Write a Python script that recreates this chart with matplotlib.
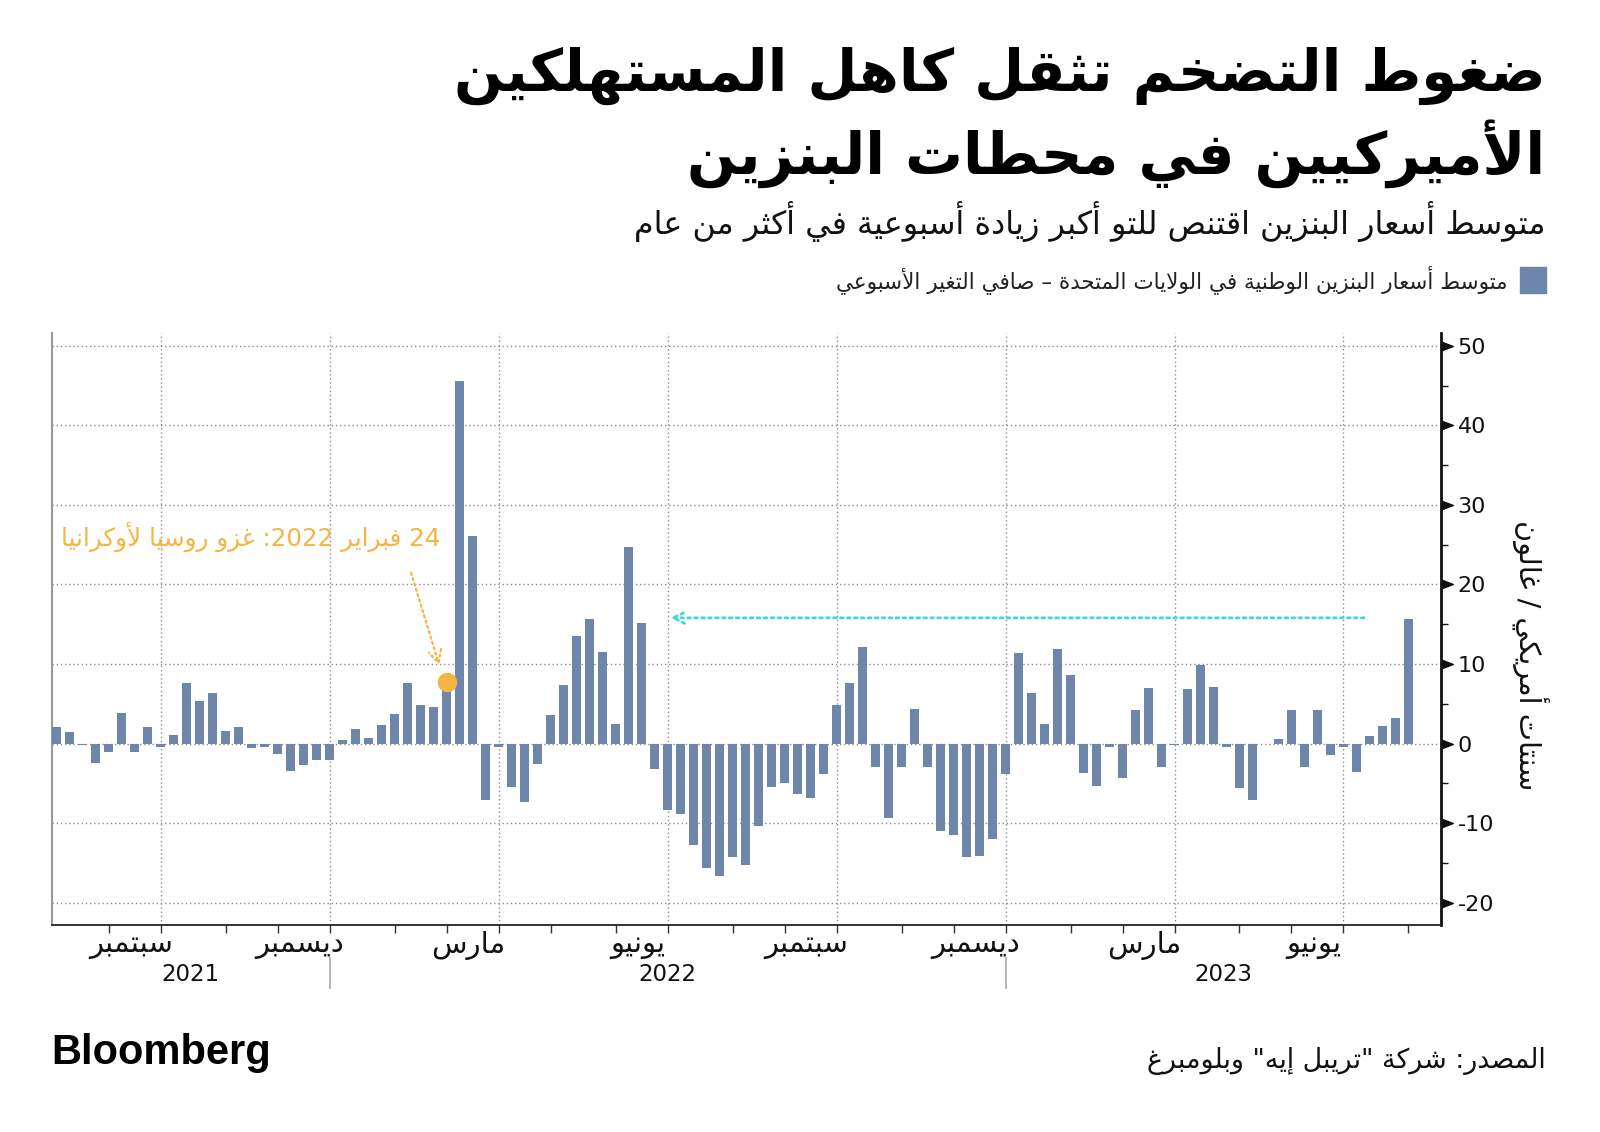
import re
import numpy as np
import pandas as pd
import matplotlib
matplotlib.use("Agg")
import matplotlib.pyplot as plt
from matplotlib.transforms import blended_transform_factory
from matplotlib.ticker import MultipleLocator, FixedLocator, NullFormatter

# ---------------- data ----------------
first_week = "2021-08-02"
n_weeks = 105
weekly_change = [
    2.1, 1.5, -0.2, -2.4, -1.0, 3.8, -1.0, 2.1, -0.4, 1.1,
    7.6, 5.3, 6.3, 1.6, 2.1, -0.5, -0.4, -1.3, -3.5, -2.7,
    -2.1, -2.1, 0.4, 1.8, 0.7, 2.3, 3.7, 7.6, 4.9, 4.6,
    7.0, 45.6, 26.1, -7.1, -0.4, -5.5, -7.4, -2.6, 3.6, 7.3,
    13.5, 15.6, 11.5, 2.4, 24.7, 15.1, -3.2, -8.3, -8.9, -12.8,
    -15.6, -16.6, -14.2, -15.3, -10.3, -5.4, -4.9, -6.3, -6.8, -3.8,
    4.9, 7.6, 12.1, -2.9, -9.3, -2.9, 4.3, -2.9, -11.0, -11.5,
    -14.2, -14.1, -12.0, -3.8, 11.4, 6.4, 2.5, 11.9, 8.6, -3.7,
    -5.3, -0.4, -4.3, 4.2, 7.0, -2.9, -0.2, 6.8, 9.9, 7.1,
    -0.4, -5.6, -7.1, -0.1, 0.6, 4.2, -2.9, 4.2, -1.5, -0.4,
    -3.6, 1.0, 2.2, 3.2, 15.6,
]
month_names = {3: "مارس", 6: "يونيو", 9: "سبتمبر", 12: "ديسمبر"}
y_ticks = [-20, -10, 0, 10, 20, 30, 40, 50]
invasion_week = 30          # index of the week of 24 Feb 2022
invasion_value = 7.8
latest_week = 104
compare_week = 47

title_1 = "ضغوط التضخم تثقل كاهل المستهلكين"
title_2 = "الأميركيين في محطات البنزين"
subtitle = "متوسط أسعار البنزين اقتنص للتو أكبر زيادة أسبوعية في أكثر من عام"
legend_label = "متوسط أسعار البنزين الوطنية في الولايات المتحدة – صافي التغير الأسبوعي"
y_label = "سنتات أمريكي / غالون"
annotation = "24 فبراير 2022: غزو روسيا لأوكرانيا"
source = 'المصدر: شركة "تريبل إيه" وبلومبرغ'

# ---------------- Arabic shaping ----------------
_order = [('\u0621', 1), ('\u0622', 2), ('\u0623', 2), ('\u0624', 2), ('\u0625', 2),
          ('\u0626', 4), ('\u0627', 2), ('\u0628', 4), ('\u0629', 2), ('\u062A', 4),
          ('\u062B', 4), ('\u062C', 4), ('\u062D', 4), ('\u062E', 4), ('\u062F', 2),
          ('\u0630', 2), ('\u0631', 2), ('\u0632', 2), ('\u0633', 4), ('\u0634', 4),
          ('\u0635', 4), ('\u0636', 4), ('\u0637', 4), ('\u0638', 4), ('\u0639', 4),
          ('\u063A', 4), ('\u0641', 4), ('\u0642', 4), ('\u0643', 4), ('\u0644', 4),
          ('\u0645', 4), ('\u0646', 4), ('\u0647', 4), ('\u0648', 2), ('\u0649', 2),
          ('\u064A', 4)]
FORMS = {}
_c = 0xFE80
for _ch, _n in _order:
    FORMS[_ch] = (_c, _n)
    _c += _n
LAM_ALEF = {'\u0622': 0xFEF5, '\u0623': 0xFEF7, '\u0625': 0xFEF9, '\u0627': 0xFEFB}


def ar(text):
    units = []
    i = 0
    while i < len(text):
        c = text[i]
        if c == '\u0644' and i + 1 < len(text) and text[i + 1] in LAM_ALEF:
            units.append(('LA', text[i + 1]))
            i += 2
        else:
            units.append(('C', c))
            i += 1

    def dual(u):
        return u is not None and u[0] == 'C' and u[1] in FORMS and FORMS[u[1]][1] == 4

    def joinable(u):
        return u is not None and (u[0] == 'LA' or (u[1] in FORMS and FORMS[u[1]][1] > 1))

    res = []
    for k, (t, c) in enumerate(units):
        prev = units[k - 1] if k > 0 else None
        nxt = units[k + 1] if k + 1 < len(units) else None
        jp = dual(prev)
        if t == 'LA':
            res.append(chr(LAM_ALEF[c] + (1 if jp else 0)))
            continue
        if c not in FORMS:
            res.append(c)
            continue
        code, nf = FORMS[c]
        if nf == 1:
            res.append(chr(code))
            continue
        jn = nf == 4 and joinable(nxt)
        off = 3 if (jp and jn) else 1 if jp else 2 if jn else 0
        res.append(chr(code + off))
    s = ''.join(res)[::-1]
    s = re.sub(r'[0-9A-Za-z][0-9A-Za-z.,%]*', lambda m: m.group(0)[::-1], s)
    return s


# ---------------- figure ----------------
plt.rcParams['font.family'] = ['DejaVu Sans']
plt.rcParams['axes.unicode_minus'] = False
BAR = '#6d86aa'
ORANGE = '#f5b545'
CYAN = '#3fd8d8'
GRID = '#8c8c8c'

fig = plt.figure(figsize=(16, 11.32), dpi=100)
ax = fig.add_axes([0.0325, 0.1829, 0.9006 - 0.0325, 0.7058 - 0.1829])

weeks = pd.date_range(first_week, periods=n_weeks, freq='7D')
x = np.arange(n_weeks)
ax.bar(x, weekly_change, width=0.67, color=BAR, zorder=3)

ax.set_xlim(-0.36, 106.5)
ax.set_ylim(-22.8, 51.6)

# month ticks: the week that contains the 1st of the month
tick_idx, tick_month = [], []
for i, d in enumerate(weeks):
    for k in range(7):
        dd = d + pd.Timedelta(days=k)
        if dd.day == 1:
            tick_idx.append(i)
            tick_month.append(dd.month)
ax.xaxis.set_major_locator(FixedLocator(tick_idx))
ax.xaxis.set_major_formatter(NullFormatter())
ax.tick_params(axis='x', length=6, width=1, color='#333333', direction='out')

# quarter gridlines
for i, m in zip(tick_idx, tick_month):
    if m in (1, 4, 7, 10):
        ax.axvline(i, color=GRID, lw=1, linestyle=(0, (1, 2)), zorder=1)
for yv in y_ticks:
    ax.axhline(yv, color=GRID, lw=1, linestyle=(0, (1, 2)), zorder=1)

# month labels
bt = blended_transform_factory(ax.transData, ax.transAxes)
for j, (i, m) in enumerate(zip(tick_idx, tick_month)):
    if m in month_names and j + 1 < len(tick_idx):
        xc = (i + tick_idx[j + 1]) / 2 - 0.3
        ax.text(xc, -0.034, ar(month_names[m]), transform=bt, ha='center', va='center',
                fontsize=21, color='#111111')

# year labels and separators
xl0, xl1 = ax.get_xlim()
jan_idx = [i for i, m in zip(tick_idx, tick_month) if m == 1]
bounds = [xl0] + jan_idx + [xl1]
years = [weeks[0].year + k for k in range(len(bounds) - 1)]
for k, yr in enumerate(years):
    ax.text((bounds[k] + bounds[k + 1]) / 2, -0.083, str(yr), transform=bt,
            ha='center', va='center', fontsize=16.5, color='#111111')
for i in jan_idx:
    ax.plot([i, i], [-0.056, -0.106], transform=bt, color='#aaaaaa', lw=1.2, clip_on=False)

# y axis on right
ax.yaxis.tick_right()
ax.set_yticks(y_ticks)
ax.yaxis.set_minor_locator(MultipleLocator(5))
ax.tick_params(axis='y', which='major', length=0, pad=12, labelsize=16, labelcolor='#111111')
ax.tick_params(axis='y', which='minor', length=5, width=1, color='#111111', direction='out')
tri = blended_transform_factory(ax.transAxes, ax.transData)
ax.plot([1.0] * len(y_ticks), y_ticks, linestyle='none',
        marker=[(0, -0.38), (1, 0), (0, 0.38)], markersize=17, color='#111111',
        transform=tri, clip_on=False, zorder=5)

ax.spines['top'].set_visible(False)
ax.spines['right'].set_color('#111111')
ax.spines['right'].set_linewidth(2)
ax.spines['bottom'].set_color('#222222')
ax.spines['bottom'].set_linewidth(1.3)
ax.spines['left'].set_color('#9a9a9a')
ax.spines['left'].set_linewidth(1.5)

# annotation: invasion
ax.plot([invasion_week], [invasion_value], marker='o', markersize=13, color=ORANGE,
        zorder=6, clip_on=False)
ax.annotate('', xy=(invasion_week - 0.5, invasion_value + 1.7),
            xytext=(invasion_week - 2.8, invasion_value + 14.0),
            arrowprops=dict(arrowstyle='->,head_length=0.9,head_width=0.45', color=ORANGE,
                            lw=1.6, linestyle=(0, (1, 1.5))), zorder=6)
ax.text(invasion_week - 0.45, 26.0, ar(annotation), ha='right', va='center',
        fontsize=17.7, color=ORANGE)

# annotation: latest vs last year
ax.annotate('', xy=(compare_week, weekly_change[latest_week] + 0.2),
            xytext=(latest_week - 3.2, weekly_change[latest_week] + 0.2),
            arrowprops=dict(arrowstyle='->,head_length=0.8,head_width=0.4', color=CYAN,
                            lw=2, linestyle=(0, (1, 1.5))), zorder=6)

# titles
fig.text(0.966, 0.933, ar(title_1), ha='right', va='center', fontsize=41.5,
         fontweight='bold', color='#000000')
fig.text(0.966, 0.864, ar(title_2), ha='right', va='center', fontsize=41.5,
         fontweight='bold', color='#000000')
fig.text(0.966, 0.804, ar(subtitle), ha='right', va='center', fontsize=22.9, color='#111111')

# legend
fig.patches.append(plt.Rectangle((0.95, 0.7412), 0.01625, 0.023, transform=fig.transFigure,
                                 color=BAR, figure=fig))
fig.text(0.9425, 0.7527, ar(legend_label), ha='right', va='center', fontsize=15.5,
         color='#222222')

# y label
fig.text(0.956, 0.4214, ar(y_label), rotation=270, ha='center', va='center',
         fontsize=20.7, color='#111111')

# footer
fig.text(0.032, 0.0698, 'Bloomberg', ha='left', va='center', fontsize=30,
         fontweight='bold', family=['Liberation Sans', 'DejaVu Sans'], color='#000000')
fig.text(0.966, 0.0627, ar(source), ha='right', va='center', fontsize=19.4, color='#111111')

fig.savefig('out.png', dpi=100)
